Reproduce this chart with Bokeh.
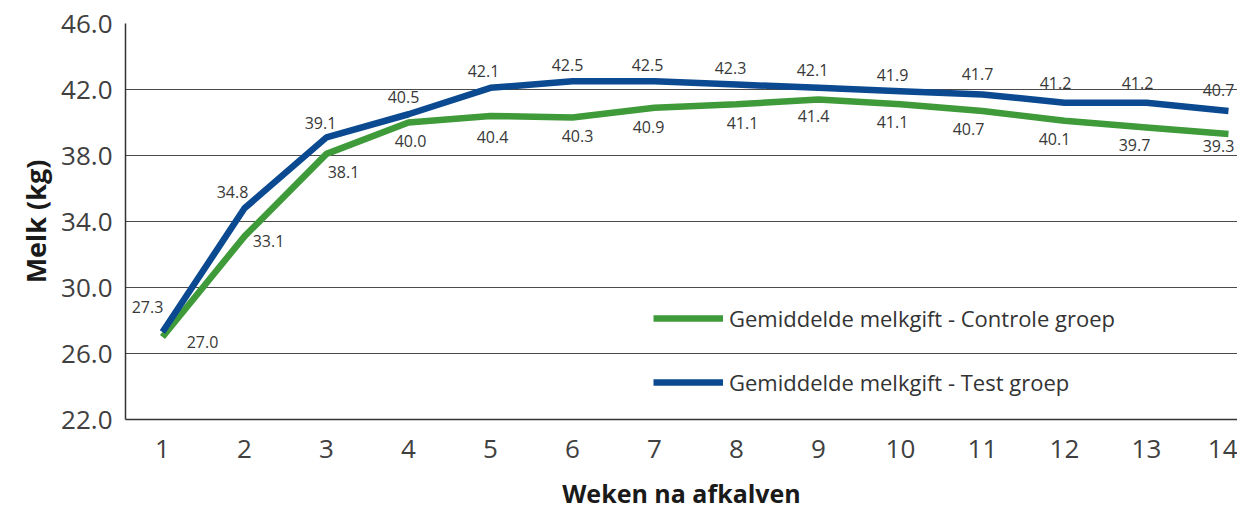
from bokeh.plotting import figure
from bokeh.models import ColumnDataSource, FixedTicker, PrintfTickFormatter, Legend, LegendItem, Range1d
from bokeh.core.properties import value
from bokeh.embed import file_html
from bokeh.resources import INLINE

# ---- data ----
weeks = list(range(1, 15))
controle = [27.0, 33.1, 38.1, 40.0, 40.4, 40.3, 40.9, 41.1, 41.4, 41.1, 40.7, 40.1, 39.7, 39.3]
test = [27.3, 34.8, 39.1, 40.5, 42.1, 42.5, 42.5, 42.3, 42.1, 41.9, 41.7, 41.2, 41.2, 40.7]
y_ticks = [22, 26, 30, 34, 38, 42, 46]
name_controle = "Gemiddelde melkgift - Controle groep"
name_test = "Gemiddelde melkgift - Test groep"

# ---- label placement (pixel offsets, styling only) ----
test_dx = [-15, -12, -6, -5, -7, -5, -7, -6, -6, -8, -5, -9, -9, -10]
test_dy = [-25, -16, -14, -17, -17, -16, -16, -17, -18, -16, -20, -20, -20, -21]
ctrl_dx = [40, 24, 17, 2, 2, 5, -6, 6, -5, -8, -14, -10, -12, -10]
ctrl_dy = [5, 5, 18, 18, 21, 18, 19, 19, 17, 18, 18, 18, 18, 12]

BLUE = "#0b4a91"
GREEN = "#3f9a3a"
TXT = "#383838"
FONT = "Open Sans"

p = figure(width=1237, height=512, output_backend="svg", toolbar_location=None,
           x_range=Range1d(0.549, 14.11), y_range=Range1d(22, 46),
           min_border_left=125, min_border_top=23, min_border_bottom=90, min_border_right=0)
p.outline_line_color = None
p.background_fill_color = "white"
p.border_fill_color = "white"

# axes
p.xaxis.ticker = FixedTicker(ticks=weeks)
p.yaxis.ticker = FixedTicker(ticks=y_ticks)
p.yaxis.formatter = PrintfTickFormatter(format="%.1f")
for ax in (p.xaxis[0], p.yaxis[0]):
    ax.major_tick_line_color = None
    ax.minor_tick_line_color = None
    ax.axis_line_color = "#333333"
    ax.axis_line_width = 1.5
    ax.major_label_text_font = FONT
    ax.major_label_text_font_size = "26px"
    ax.major_label_text_color = "#404040"
    ax.axis_label_text_font = FONT
    ax.axis_label_text_font_style = "bold"
    ax.axis_label_text_color = "#1a1a1a"
p.yaxis.major_label_standoff = 7
p.xaxis.major_label_standoff = 14
p.yaxis.axis_label = "Melk (kg)"
p.xaxis.axis_label = "Weken na afkalven"
p.yaxis.axis_label_text_font_size = "27px"
p.xaxis.axis_label_text_font_size = "25px"
p.yaxis.axis_label_standoff = 4
p.xaxis.axis_label_standoff = 15

p.xgrid.grid_line_color = None
p.ygrid.grid_line_color = "#4a4a4a"
p.ygrid.grid_line_width = 1.2

src_c = ColumnDataSource(dict(x=weeks, y=controle, t=[f"{v:.1f}" for v in controle], dx=ctrl_dx, dy=ctrl_dy))
src_t = ColumnDataSource(dict(x=weeks, y=test, t=[f"{v:.1f}" for v in test], dx=test_dx, dy=test_dy))

r_c = p.line("x", "y", source=src_c, line_color=GREEN, line_width=6.5)
r_t = p.line("x", "y", source=src_t, line_color=BLUE, line_width=6.5)

for s in (src_c, src_t):
    p.text("x", "y", text="t", source=s, x_offset="dx", y_offset="dy",
           text_font=value(FONT), text_font_size="16px", text_color=TXT,
           text_align="center", text_baseline="middle")

legend = Legend(items=[LegendItem(label=name_controle, renderers=[r_c]),
                       LegendItem(label=name_test, renderers=[r_t])],
                location=(528, 22), orientation="vertical")
legend.glyph_width = 70
legend.glyph_height = 30
legend.label_height = 30
legend.spacing = 34
legend.padding = 0
legend.margin = 0
legend.label_standoff = 6
legend.border_line_color = None
legend.background_fill_alpha = 0
legend.label_text_font = FONT
legend.label_text_font_size = "22px"
legend.label_text_color = "#333333"
p.add_layout(legend)

open("out.html", "w").write(file_html(p, INLINE))
